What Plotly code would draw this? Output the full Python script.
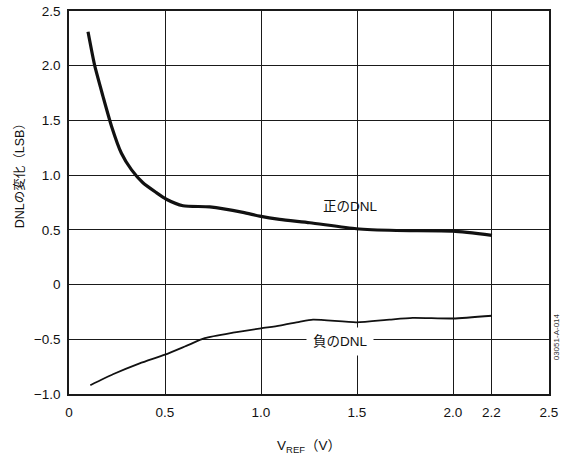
import plotly.graph_objects as go

pos_x = [0.099, 0.134, 0.177, 0.221, 0.273, 0.325, 0.385, 0.455, 0.507, 0.594, 0.733,
         0.906, 0.993, 1.097, 1.254, 1.497, 1.705, 2.0, 2.203]
pos_y = [2.31, 2.0, 1.72, 1.45, 1.20, 1.05, 0.93, 0.84, 0.78, 0.72, 0.71,
         0.66, 0.625, 0.595, 0.565, 0.51, 0.494, 0.488, 0.45]

neg_x = [0.111, 0.229, 0.368, 0.5, 0.611, 0.707, 0.854, 1.0, 1.097, 1.2, 1.271,
         1.497, 1.67, 1.79, 2.0, 2.203]
neg_y = [-0.92, -0.82, -0.72, -0.64, -0.56, -0.49, -0.44, -0.40, -0.375, -0.34, -0.32,
         -0.345, -0.32, -0.305, -0.31, -0.285]

x_ticks = [0, 0.5, 1.0, 1.5, 2.0, 2.2, 2.5]
x_tick_text = ["0", "0.5", "1.0", "1.5", "2.0", "2.2", "2.5"]
y_ticks = [-1.0, -0.5, 0, 0.5, 1.0, 1.5, 2.0, 2.5]
y_tick_text = ["\u22121.0", "\u22120.5", "0", "0.5", "1.0", "1.5", "2.0", "2.5"]

FONT = "Liberation Sans, Arial, Noto Sans CJK JP, sans-serif"
TXT = "#111111"

fig = go.Figure()
fig.add_trace(go.Scatter(x=pos_x, y=pos_y, mode="lines",
                         line=dict(color="#111111", width=3.2, shape="spline", smoothing=0.6),
                         showlegend=False, hoverinfo="skip"))
fig.add_trace(go.Scatter(x=neg_x, y=neg_y, mode="lines",
                         line=dict(color="#111111", width=1.8, shape="spline", smoothing=0.6),
                         showlegend=False, hoverinfo="skip"))

axis_common = dict(showgrid=True, gridcolor="#1a1a1a", gridwidth=1.2,
                   showline=True, linecolor="#1a1a1a", linewidth=1.5, mirror=True,
                   zeroline=False, ticks="", automargin=False,
                   tickfont=dict(size=13.5, color=TXT, family=FONT))

fig.update_xaxes(range=[0, 2.5], tickvals=x_ticks, ticktext=x_tick_text, ticklabelstandoff=5,
                 title=dict(text="V<sub>REF</sub>\uff08V\uff09", font=dict(size=13.5, color=TXT, family=FONT),
                            standoff=22),
                 **axis_common)
fig.update_yaxes(range=[-1.0, 2.5], tickvals=y_ticks, ticktext=y_tick_text, ticklabelstandoff=4,
                 **axis_common)

fig.add_annotation(text="DNLの変化\uff08LSB\uff09", xref="paper", yref="paper",
                   x=-0.103, y=0.578, textangle=-90, showarrow=False,
                   font=dict(size=12.5, color=TXT, family=FONT), xanchor="center", yanchor="middle")
fig.add_annotation(text="正のDNL", x=1.462, y=0.716, showarrow=False,
                   font=dict(size=13.5, color=TXT, family=FONT))
fig.add_annotation(text="負のDNL", x=1.41, y=-0.52, showarrow=False, bgcolor="white",
                   borderpad=6, font=dict(size=13.5, color=TXT, family=FONT))
fig.add_annotation(text="03051-A-014", xref="paper", yref="paper", x=1.0285, y=0.082,
                   textangle=-90, showarrow=False,
                   font=dict(size=8, color="#333333", family=FONT))

fig.update_layout(width=567, height=460, margin=dict(l=69, r=18, t=11, b=66),
                  plot_bgcolor="white", paper_bgcolor="white",
                  font=dict(family=FONT))

fig.write_html("out.html")
